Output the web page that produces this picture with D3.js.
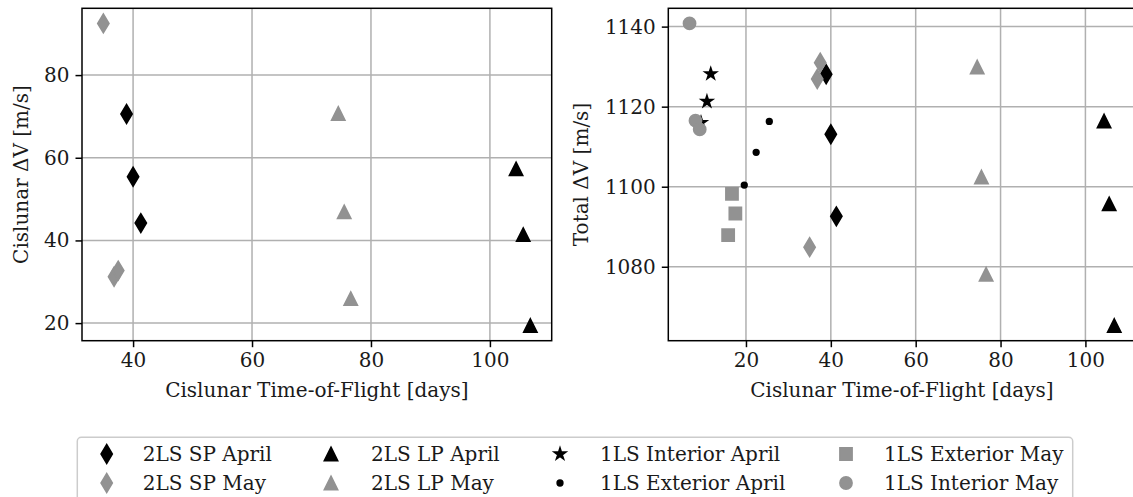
<!DOCTYPE html>
<html>
<head>
<meta charset="utf-8">
<script src="https://cdn.jsdelivr.net/npm/d3@7"></script>
<style>
  html, body { margin: 0; padding: 0; background: #ffffff; }
  svg { display: block; }
  text { font-family: "DejaVu Serif", "Liberation Serif", serif; fill: #1a1a1a; }
</style>
</head>
<body>
<svg id="fig" width="1133" height="497"></svg>
<script>
// ---- data: cislunar time-of-flight [days], cislunar dV [m/s], total dV [m/s] ----
const sp2AprilTof   = [38.9, 40.0, 41.3];
const sp2AprilCis   = [70.6, 55.4, 44.2];
const sp2AprilTot   = [1128.1, 1113.1, 1092.6];

const sp2MayTof     = [35.0, 36.8, 37.5];
const sp2MayCis     = [92.5, 31.2, 32.7];
const sp2MayTot     = [1084.9, 1126.9, 1131.0];

const lp2AprilTof   = [104.4, 105.6, 106.8];
const lp2AprilCis   = [57.3, 41.4, 19.4];
const lp2AprilTot   = [1116.4, 1095.7, 1065.3];

const lp2MayTof     = [74.5, 75.5, 76.6];
const lp2MayCis     = [70.7, 46.9, 25.9];
const lp2MayTot     = [1129.9, 1102.4, 1078.1];

const int1AprilTof  = [11.7, 10.8, 9.4];
const int1AprilTot  = [1128.2, 1121.3, 1116.0];

const ext1AprilTof  = [25.5, 22.4, 19.6];
const ext1AprilTot  = [1116.3, 1108.6, 1100.4];

const ext1MayTof    = [16.7, 17.5, 15.8];
const ext1MayTot    = [1098.2, 1093.3, 1087.9];

const int1MayTof    = [6.7, 8.1, 9.1];
const int1MayTot    = [1140.8, 1116.5, 1114.3];

const leftXTicks  = [40, 60, 80, 100];
const leftYTicks  = [20, 40, 60, 80];
const rightXTicks = [20, 40, 60, 80, 100];
const rightYTicks = [1080, 1100, 1120, 1140];

const xLabel = "Cislunar Time-of-Flight [days]";
const leftYLabel = "Cislunar ΔV [m/s]";
const rightYLabel = "Total ΔV [m/s]";

const APRIL = "#000000";
const MAY = "#929292";

// series: legend order (column-wise, two rows)
const series = [
  { name: "2LS SP April",       marker: "thin_diamond", color: APRIL, x: sp2AprilTof, y1: sp2AprilCis, y2: sp2AprilTot },
  { name: "2LS SP May",         marker: "thin_diamond", color: MAY,   x: sp2MayTof,   y1: sp2MayCis,   y2: sp2MayTot },
  { name: "2LS LP April",       marker: "triangle",     color: APRIL, x: lp2AprilTof, y1: lp2AprilCis, y2: lp2AprilTot },
  { name: "2LS LP May",         marker: "triangle",     color: MAY,   x: lp2MayTof,   y1: lp2MayCis,   y2: lp2MayTot },
  { name: "1LS Interior April", marker: "star",         color: APRIL, x: int1AprilTof, y1: null, y2: int1AprilTot },
  { name: "1LS Exterior April", marker: "point",        color: APRIL, x: ext1AprilTof, y1: null, y2: ext1AprilTot },
  { name: "1LS Exterior May",   marker: "square",       color: MAY,   x: ext1MayTof,   y1: null, y2: ext1MayTot },
  { name: "1LS Interior May",   marker: "circle",       color: MAY,   x: int1MayTof,   y1: null, y2: int1MayTot }
];

// ---- marker shapes (size = nominal marker size in px) ----
function markerPath(kind, s) {
  const h = s / 2;
  switch (kind) {
    case "triangle":
      return `M0,${-h}L${h},${h}L${-h},${h}Z`;
    case "thin_diamond": {
      const dy = s * Math.SQRT2 / 2, dx = 0.6 * dy;
      return `M0,${-dy}L${dx},0L0,${dy}L${-dx},0Z`;
    }
    case "square":
      return `M${-h},${-h}H${h}V${h}H${-h}Z`;
    case "circle":
      return d3.arc()({ innerRadius: 0, outerRadius: h, startAngle: 0, endAngle: 2 * Math.PI });
    case "point":
      return d3.arc()({ innerRadius: 0, outerRadius: h / 2, startAngle: 0, endAngle: 2 * Math.PI });
    case "star": {
      const pts = [];
      const inner = 0.381966;
      for (let i = 0; i < 10; i++) {
        const r = (i % 2 === 0 ? 1 : inner) * h;
        const a = Math.PI / 2 + i * Math.PI / 5;
        pts.push([r * Math.cos(a), -r * Math.sin(a)]);
      }
      return "M" + pts.map(p => p.join(",")).join("L") + "Z";
    }
  }
}
const markerSize = { triangle: 13, thin_diamond: 13, square: 12, circle: 12, point: 11, star: 11.5 };
const EDGE = 1.8;

// ---- layout ----
const svg = d3.select("#fig");
const plotTop = 8.3, plotBottom = 340.7;
const panels = [
  { x0: 82,    x1: 551.7,  key: "y1", xTicks: leftXTicks,  yTicks: leftYTicks,  yLabel: leftYLabel,  yLabelX: 21 },
  { x0: 668.3, x1: 1135.5, key: "y2", xTicks: rightXTicks, yTicks: rightYTicks, yLabel: rightYLabel, yLabelX: 581 }
];

// matplotlib-style autoscale: data extent padded by 5% on each side
function padded(values) {
  const [lo, hi] = d3.extent(values);
  const m = (hi - lo) * 0.05;
  return [lo - m, hi + m];
}

const FONT = 20;

panels.forEach(p => {
  const used = series.filter(s => s[p.key]);
  const xs = used.flatMap(s => s.x);
  const ys = used.flatMap(s => s[p.key]);
  const x = d3.scaleLinear().domain(padded(xs)).range([p.x0, p.x1]);
  const y = d3.scaleLinear().domain(padded(ys)).range([plotBottom, plotTop]);

  const g = svg.append("g");

  // grid
  g.append("g").selectAll("line").data(p.xTicks).join("line")
    .attr("x1", d => x(d)).attr("x2", d => x(d)).attr("y1", plotTop).attr("y2", plotBottom)
    .attr("stroke", "#b0b0b0").attr("stroke-width", 1.5);
  g.append("g").selectAll("line").data(p.yTicks).join("line")
    .attr("x1", p.x0).attr("x2", p.x1).attr("y1", d => y(d)).attr("y2", d => y(d))
    .attr("stroke", "#b0b0b0").attr("stroke-width", 1.5);

  // points
  used.forEach(s => {
    const pts = s.x.map((v, i) => [v, s[p.key][i]]);
    g.append("g").selectAll("path").data(pts).join("path")
      .attr("transform", d => `translate(${x(d[0])},${y(d[1])})`)
      .attr("d", markerPath(s.marker, markerSize[s.marker]))
      .attr("fill", s.color).attr("stroke", s.color)
      .attr("stroke-width", EDGE).attr("stroke-linejoin", "miter");
  });

  // axes
  const ax = g.append("g").attr("transform", `translate(0,${plotBottom})`)
    .call(d3.axisBottom(x).tickValues(p.xTicks).tickSize(6.5).tickPadding(6).tickFormat(d3.format("d")));
  const ay = g.append("g").attr("transform", `translate(${p.x0},0)`)
    .call(d3.axisLeft(y).tickValues(p.yTicks).tickSize(6.5).tickPadding(6).tickFormat(d3.format("d")));
  [ax, ay].forEach(a => {
    a.select(".domain").remove();
    a.selectAll("line").attr("stroke", "#000").attr("stroke-width", 1.5);
    a.selectAll("text").style("font-family", '"DejaVu Serif", serif').style("font-size", FONT + "px").attr("fill", "#1a1a1a");
  });

  // frame
  g.append("rect").attr("x", p.x0).attr("y", plotTop).attr("width", p.x1 - p.x0).attr("height", plotBottom - plotTop)
    .attr("fill", "none").attr("stroke", "#000").attr("stroke-width", 1.5);

  // labels
  g.append("text").attr("x", (p.x0 + p.x1) / 2).attr("y", 390).attr("dy", "0.35em")
    .attr("text-anchor", "middle").style("font-size", FONT + "px").text(xLabel);
  g.append("text").attr("transform", `translate(${p.yLabelX},${(plotTop + plotBottom) / 2}) rotate(-90)`)
    .attr("dy", "0.35em").attr("text-anchor", "middle").style("font-size", FONT + "px").text(p.yLabel);
});

// ---- legend: 4 columns x 2 rows ----
const legend = svg.append("g");
const legLeft = 77.3, legRight = 1072.7, legTop = 437.3;
legend.append("rect").attr("x", legLeft).attr("y", legTop).attr("width", legRight - legLeft).attr("height", 90)
  .attr("rx", 4).attr("fill", "#fff").attr("stroke", "#cccccc").attr("stroke-width", 1.5);

const rowsY = [454, 483];
const colMarkerX = [106.7, 331, 560, 846];
const colTextX = [142.7, 371, 600, 884];
series.forEach((s, i) => {
  const c = Math.floor(i / 2), r = i % 2;
  legend.append("path")
    .attr("transform", `translate(${colMarkerX[c]},${rowsY[r]})`)
    .attr("d", markerPath(s.marker, markerSize[s.marker]))
    .attr("fill", s.color).attr("stroke", s.color).attr("stroke-width", EDGE);
  legend.append("text").attr("x", colTextX[c]).attr("y", rowsY[r]).attr("dy", "0.35em")
    .style("font-size", FONT + "px").text(s.name);
});
</script>
</body>
</html>
